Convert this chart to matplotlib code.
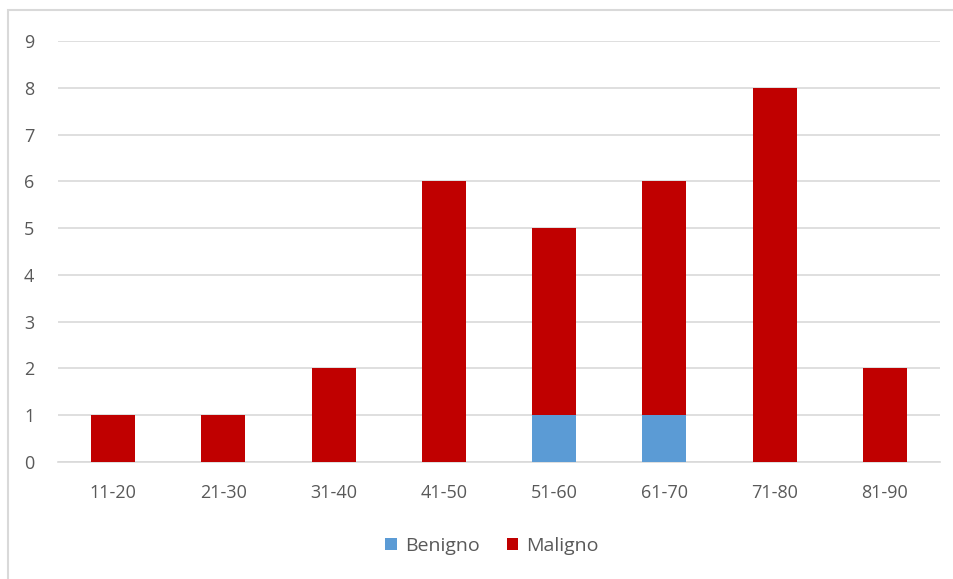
import matplotlib.pyplot as plt
from matplotlib.patches import Rectangle

# age groups and counts per diagnosis
fasce = ['11-20', '21-30', '31-40', '41-50', '51-60', '61-70', '71-80', '81-90']
benigno = [0, 0, 0, 0, 1, 1, 0, 0]
maligno = [1, 1, 2, 6, 4, 5, 8, 2]

plt.rcParams['font.family'] = ['Open Sans', 'DejaVu Sans']

fig = plt.figure(figsize=(9.54, 5.79), dpi=100)
ax = fig.add_axes([58 / 954, 117 / 579, 882 / 954, 421 / 579])

x = range(len(fasce))
ax.bar(x, benigno, width=0.4, color='#5B9BD5', label='Benigno', zorder=3)
ax.bar(x, maligno, width=0.4, bottom=benigno, color='#C00000', label='Maligno', zorder=3)

ax.set_xlim(-0.5, len(fasce) - 0.5)
ax.set_ylim(0, 9)
ax.set_yticks(range(10))
ax.set_xticks(list(x))
ax.set_xticklabels(fasce)
ax.grid(axis='y', color='#D9D9D9', linewidth=1.2, zorder=0)
for s in ['top', 'right', 'left']:
    ax.spines[s].set_visible(False)
ax.spines['bottom'].set_color('#D9D9D9')
ax.spines['bottom'].set_linewidth(1.2)
ax.tick_params(length=0, labelsize=13, colors='#595959')
ax.tick_params(axis='y', pad=17)
ax.tick_params(axis='x', pad=16)

leg = fig.legend(loc='center', bbox_to_anchor=(492 / 954, 1 - 546 / 579), ncol=2,
                 frameon=False, fontsize=14, handlelength=0.6, handleheight=0.6,
                 handletextpad=0.4, columnspacing=1.4)
for t in leg.get_texts():
    t.set_color('#595959')

# outer chart border
fig.patches.append(Rectangle((8 / 954, -0.01), 1, 1.01 - 10 / 579, transform=fig.transFigure,
                             fill=False, edgecolor='#D9D9D9', linewidth=1.5))

fig.savefig('out.png', dpi=100)
